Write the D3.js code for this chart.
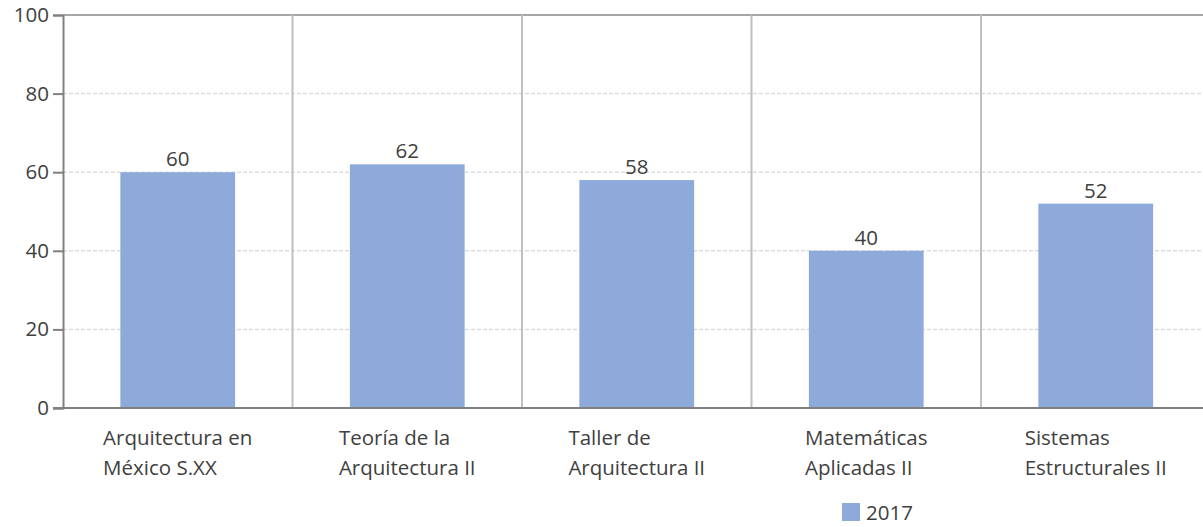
<!DOCTYPE html>
<html>
<head>
<meta charset="utf-8">
<script src="https://cdn.jsdelivr.net/npm/d3@7"></script>
<style>
  body { margin: 0; background: #fff; }
  svg { display: block; font-family: "Open Sans", sans-serif; }
</style>
</head>
<body>
<svg width="1203" height="527"></svg>
<script>
// chart data
const categories = [
	["Arquitectura en", "México S.XX"],
	["Teoría de la", "Arquitectura II"],
	["Taller de", "Arquitectura II"],
	["Matemáticas", "Aplicadas II"],
	["Sistemas", "Estructurales II"]
];
const values2017 = [60, 62, 58, 40, 52];
const yTicks = [0, 20, 40, 60, 80, 100];
const seriesName = "2017";

const svg = d3.select("svg");
const margin = { top: 15, left: 63, bottom: 408 };
const bandW = 229.5;
const textColor = "#404040";
const barColor = "#8eaadb";
const fontSize = 20.5;

const xScale = d3.scaleBand()
	.domain(d3.range(categories.length))
	.range([margin.left, margin.left + bandW * categories.length])
	.padding(0);

const yScale = d3.scaleLinear()
	.domain([0, 100])
	.range([margin.bottom, margin.top]);

const plotRight = margin.left + bandW * categories.length;

// dashed gridlines
svg.append("g")
	.selectAll("line")
	.data(yTicks.filter(t => t > 0 && t < 100))
	.enter()
	.append("line")
	.attr("x1", margin.left)
	.attr("x2", plotRight)
	.attr("y1", d => yScale(d))
	.attr("y2", d => yScale(d))
	.attr("stroke", "#dcdcdc")
	.attr("stroke-width", 1.5)
	.attr("stroke-dasharray", "4,2");

// top border
svg.append("line")
	.attr("x1", margin.left).attr("x2", plotRight)
	.attr("y1", yScale(100)).attr("y2", yScale(100))
	.attr("stroke", "#a6a6a6").attr("stroke-width", 2);

// category separators
svg.append("g")
	.selectAll("line")
	.data(d3.range(1, categories.length + 1))
	.enter()
	.append("line")
	.attr("x1", d => xScale(0) + d * xScale.bandwidth())
	.attr("x2", d => xScale(0) + d * xScale.bandwidth())
	.attr("y1", yScale(100))
	.attr("y2", yScale(0))
	.attr("stroke", "#c0c0c0")
	.attr("stroke-width", 2);

// bars
svg.append("g")
	.selectAll("rect")
	.data(values2017)
	.enter()
	.append("rect")
	.attr("x", (d, i) => xScale(i) + xScale.bandwidth() * 0.25)
	.attr("width", xScale.bandwidth() * 0.5)
	.attr("y", d => yScale(d))
	.attr("height", d => yScale(0) - yScale(d))
	.attr("fill", barColor);

// value labels
svg.append("g")
	.selectAll("text")
	.data(values2017)
	.enter()
	.append("text")
	.attr("x", (d, i) => xScale(i) + xScale.bandwidth() / 2)
	.attr("y", d => yScale(d) - 6)
	.attr("text-anchor", "middle")
	.attr("font-size", fontSize)
	.attr("fill", textColor)
	.text(d => d);

// y axis
const yAxis = d3.axisLeft(yScale).tickValues(yTicks).tickSize(10).tickPadding(4);
const yG = svg.append("g")
	.attr("transform", `translate(${margin.left},0)`)
	.call(yAxis);
yG.select(".domain").attr("stroke", "#808080").attr("stroke-width", 2);
yG.selectAll(".tick line").attr("stroke", "#808080").attr("stroke-width", 2);
yG.selectAll(".tick text")
	.attr("font-size", fontSize)
	.attr("font-family", "Open Sans, sans-serif")
	.attr("fill", textColor);

// x axis baseline
svg.append("line")
	.attr("x1", margin.left - 10).attr("x2", plotRight)
	.attr("y1", yScale(0)).attr("y2", yScale(0))
	.attr("stroke", "#808080").attr("stroke-width", 2);

// category labels: block centered, lines left-aligned
const labelG = svg.append("g");
categories.forEach((lines, i) => {
	const t = labelG.append("text")
		.attr("font-size", fontSize)
		.attr("fill", textColor);
	lines.forEach((ln, j) => {
		t.append("tspan")
			.attr("y", 445 + j * 29.5)
			.text(ln);
	});
	let maxW = 0;
	t.selectAll("tspan").each(function () {
		maxW = Math.max(maxW, this.getComputedTextLength());
	});
	const x0 = xScale(i) + xScale.bandwidth() / 2 - maxW / 2;
	t.selectAll("tspan").attr("x", x0);
});

// legend
const legend = svg.append("g").attr("transform", "translate(842,503)");
legend.append("rect")
	.attr("width", 18).attr("height", 18)
	.attr("fill", barColor);
legend.append("text")
	.attr("x", 24).attr("y", 16.5)
	.attr("font-size", fontSize)
	.attr("fill", textColor)
	.text(seriesName);
</script>
</body>
</html>
